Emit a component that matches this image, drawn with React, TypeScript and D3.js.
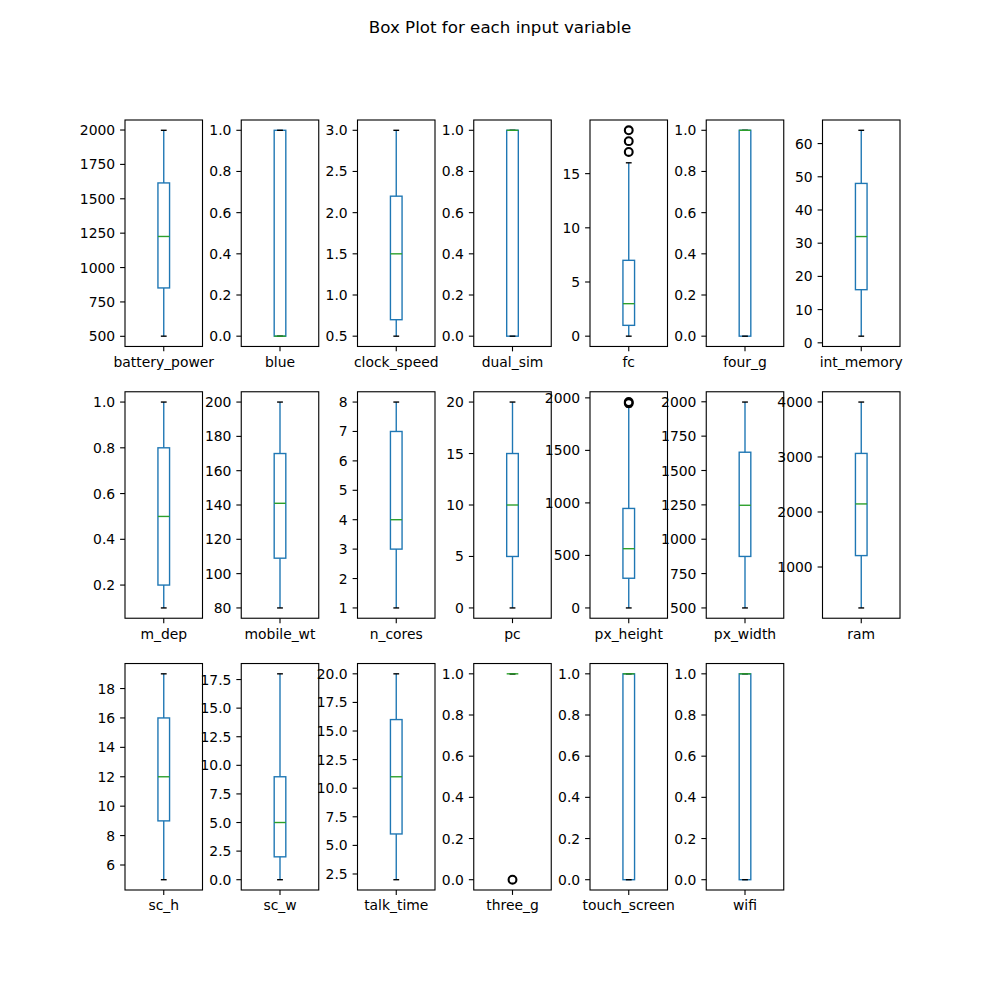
import * as d3 from 'd3';

// ─── Data ───────────────────────────────────────────────────

const variables = [
  'battery_power', 'blue', 'clock_speed', 'dual_sim', 'fc', 'four_g', 'int_memory',
  'm_dep', 'mobile_wt', 'n_cores', 'pc', 'px_height', 'px_width', 'ram',
  'sc_h', 'sc_w', 'talk_time', 'three_g', 'touch_screen', 'wifi',
];

const whiskerLow = [501, 0, 0.5, 0, 0, 0, 2, 0.1, 80, 1, 0, 0, 500, 256, 5, 0, 2, 1, 0, 0];
const q1 = [851.75, 0, 0.7, 0, 1, 0, 16, 0.2, 109, 3, 5, 282.75, 874.75, 1207.5, 9, 2, 6, 1, 0, 0];
const median = [1226, 0, 1.5, 1, 3, 1, 32, 0.5, 141, 4, 10, 564, 1247, 2146.5, 12, 5, 11, 1, 1, 1];
const q3 = [1615.25, 1, 2.2, 1, 7, 1, 48, 0.8, 170, 7, 15, 947.25, 1633, 3064.5, 16, 9, 16, 1, 1, 1];
const whiskerHigh = [1998, 1, 3.0, 1, 16, 1, 64, 1.0, 200, 8, 20, 1914, 1998, 3998, 19, 18, 20, 1, 1, 1];
const outliers: number[][] = [
  [], [], [], [], [17, 18, 19], [], [],
  [], [], [], [], [1949, 1960], [], [],
  [], [], [], [0], [], [],
];

const yTicks: string[][] = [
  ['500', '750', '1000', '1250', '1500', '1750', '2000'],
  ['0.0', '0.2', '0.4', '0.6', '0.8', '1.0'],
  ['0.5', '1.0', '1.5', '2.0', '2.5', '3.0'],
  ['0.0', '0.2', '0.4', '0.6', '0.8', '1.0'],
  ['0', '5', '10', '15'],
  ['0.0', '0.2', '0.4', '0.6', '0.8', '1.0'],
  ['0', '10', '20', '30', '40', '50', '60'],
  ['0.2', '0.4', '0.6', '0.8', '1.0'],
  ['80', '100', '120', '140', '160', '180', '200'],
  ['1', '2', '3', '4', '5', '6', '7', '8'],
  ['0', '5', '10', '15', '20'],
  ['0', '500', '1000', '1500', '2000'],
  ['500', '750', '1000', '1250', '1500', '1750', '2000'],
  ['1000', '2000', '3000', '4000'],
  ['6', '8', '10', '12', '14', '16', '18'],
  ['0.0', '2.5', '5.0', '7.5', '10.0', '12.5', '15.0', '17.5'],
  ['2.5', '5.0', '7.5', '10.0', '12.5', '15.0', '17.5', '20.0'],
  ['0.0', '0.2', '0.4', '0.6', '0.8', '1.0'],
  ['0.0', '0.2', '0.4', '0.6', '0.8', '1.0'],
  ['0.0', '0.2', '0.4', '0.6', '0.8', '1.0'],
];

// ─── Layout ─────────────────────────────────────────────────

const FIG = 1000;
const LEFT = 125, RIGHT = 900, TOP = 120, BOTTOM = 890;
const NCOL = 7, NROW = 3;
const WSPACE = 0.5, HSPACE = 0.2;
const AX_W = (RIGHT - LEFT) / (NCOL + WSPACE * (NCOL - 1));
const AX_H = (BOTTOM - TOP) / (NROW + HSPACE * (NROW - 1));
const FONT = 'DejaVu Sans, sans-serif';
const FS = 13.9;
const TICK = 4.9;
const PAD = 4.9;
const BLUE = '#1f77b4';
const GREEN = '#2ca02c';
const BOX_LW = 1.39;

function Panel({ i }: { i: number }) {
  const col = i % NCOL;
  const row = Math.floor(i / NCOL);
  const x0 = LEFT + col * AX_W * (1 + WSPACE);
  const y0 = TOP + row * AX_H * (1 + HSPACE);

  const vals = [whiskerLow[i], whiskerHigh[i], ...outliers[i]];
  const [lo, hi] = d3.extent(vals) as [number, number];
  const m = (hi - lo) * 0.05;
  const y = d3.scaleLinear().domain([lo - m, hi + m]).range([AX_H, 0]);
  const x = d3.scaleLinear().domain([0.5, 1.5]).range([0, AX_W]);

  const boxHalf = 0.075;
  const capHalf = 0.0375;

  return (
    <g transform={`translate(${x0},${y0})`}>
      {/* box */}
      <rect
        x={x(1 - boxHalf)}
        y={y(q3[i])}
        width={x(1 + boxHalf) - x(1 - boxHalf)}
        height={Math.max(0, y(q1[i]) - y(q3[i]))}
        fill="none"
        stroke={BLUE}
        strokeWidth={BOX_LW}
      />
      {/* whiskers */}
      <line x1={x(1)} x2={x(1)} y1={y(q1[i])} y2={y(whiskerLow[i])} stroke={BLUE} strokeWidth={BOX_LW} />
      <line x1={x(1)} x2={x(1)} y1={y(q3[i])} y2={y(whiskerHigh[i])} stroke={BLUE} strokeWidth={BOX_LW} />
      {/* caps */}
      {[whiskerLow[i], whiskerHigh[i]].map((v, k) => (
        <line key={k} x1={x(1 - capHalf)} x2={x(1 + capHalf)} y1={y(v)} y2={y(v)} stroke="#000" strokeWidth={BOX_LW} />
      ))}
      {/* median */}
      <line x1={x(1 - boxHalf)} x2={x(1 + boxHalf)} y1={y(median[i])} y2={y(median[i])} stroke={GREEN} strokeWidth={BOX_LW} />
      {/* fliers (many overlapping points, hence the heavier ring) */}
      {outliers[i].map((v, k) => (
        <circle key={k} cx={x(1)} cy={y(v)} r={3.9} fill="none" stroke="#000" strokeWidth={2.1} />
      ))}
      {/* frame */}
      <rect x={0} y={0} width={AX_W} height={AX_H} fill="none" stroke="#000" strokeWidth={1.11} />
      {/* y ticks */}
      {yTicks[i].map((t) => {
        const yy = y(+t);
        return (
          <g key={t} transform={`translate(0,${yy})`}>
            <line x1={-TICK} x2={0} stroke="#000" strokeWidth={1.11} />
            <text x={-TICK - PAD} y={5} textAnchor="end" fontSize={FS} fontFamily={FONT} fill="#000">{t}</text>
          </g>
        );
      })}
      {/* x tick */}
      <line x1={x(1)} x2={x(1)} y1={AX_H} y2={AX_H + TICK} stroke="#000" strokeWidth={1.11} />
      <text x={x(1)} y={AX_H + 20.5} textAnchor="middle" fontSize={FS} fontFamily={FONT} fill="#000">{variables[i]}</text>
    </g>
  );
}

export default function App() {
  return (
    <svg
      width={FIG}
      height={FIG}
      style={{ position: 'absolute', left: 0, top: 0, background: '#fff' }}
    >
      <rect width={FIG} height={FIG} fill="#fff" />
      <text x={FIG / 2} y={33} textAnchor="middle" fontSize={16.7} fontFamily={FONT} fill="#000">
        Box Plot for each input variable
      </text>
      {variables.map((_, i) => <Panel key={i} i={i} />)}
    </svg>
  );
}
